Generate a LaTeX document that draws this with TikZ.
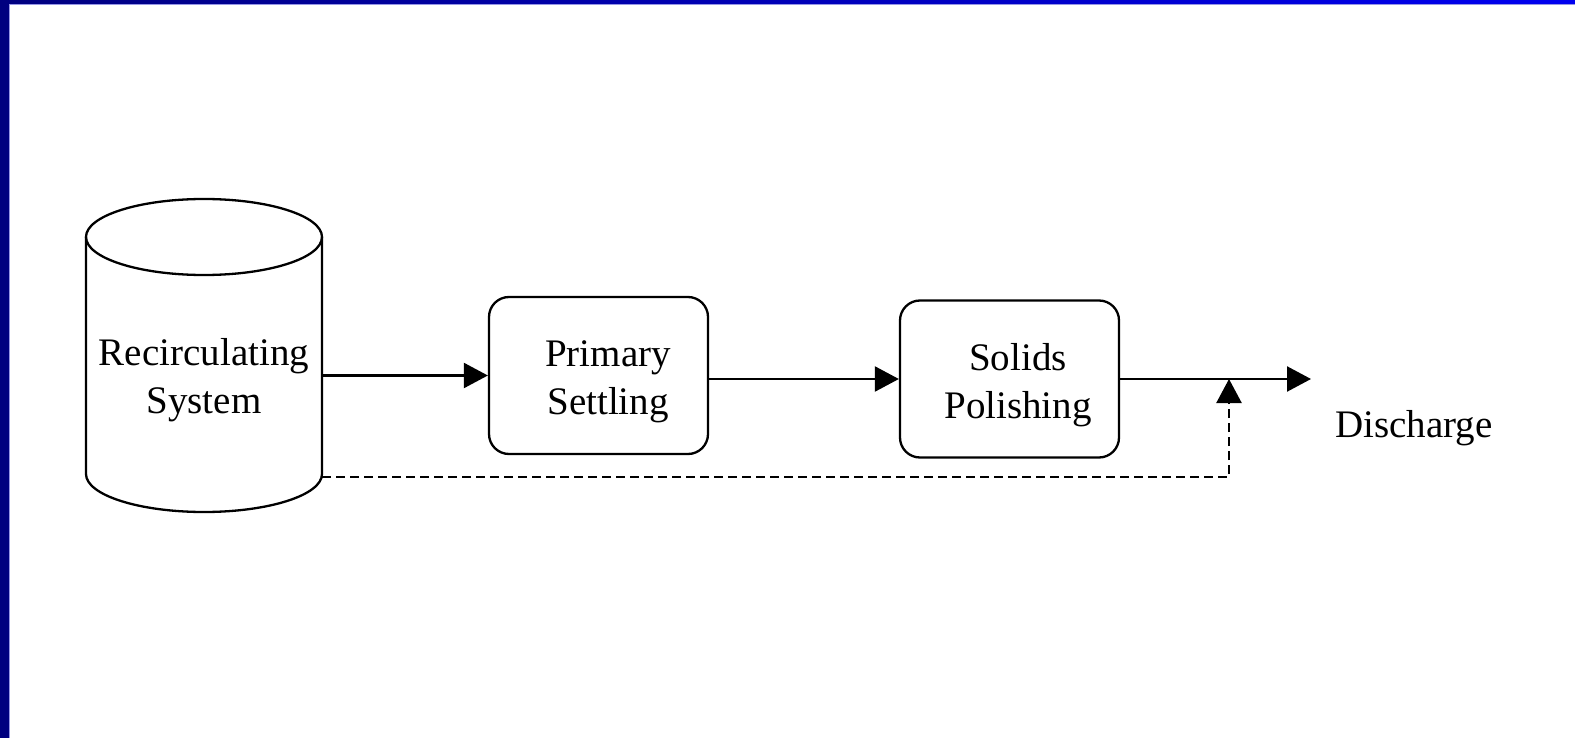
\documentclass[tikz,border=0pt]{standalone}
\usepackage{fontspec}
\setmainfont{Liberation Serif}
\usetikzlibrary{arrows.meta}
\definecolor{navy}{RGB}{0,0,128}
\definecolor{brightblue}{RGB}{0,0,240}
\definecolor{rimline}{RGB}{150,150,230}
\begin{document}
\begin{tikzpicture}[x=1pt,y=-1pt,
  lbl/.style={font=\fontsize{39pt}{48pt}\selectfont, align=center, inner sep=0pt},
  procbox/.style={draw, line width=2.3pt, rounded corners=20pt, minimum width=219pt, minimum height=157pt, inner sep=0pt},
  flow/.style={line width=2.3pt, -{Triangle[length=24pt,width=25pt]}},
  bypass/.style={flow, dash pattern=on 9pt off 5pt},
  tank/.style={line width=2.3pt}]
\useasboundingbox (0,0) rectangle (1575,738);
\fill[white] (0,0) rectangle (1575,738);
% frame
\shade[left color=navy, right color=brightblue] (0,0) rectangle (1575,4.5);
\fill[navy] (0,0) rectangle (9,738);
\draw[rimline, line width=1pt] (9.5,738) -- (9.5,5) -- (1575,5);

% cylinder
\node[minimum width=236pt, minimum height=240pt, inner sep=0pt] (cyl) at (204,357) {};
\draw[tank] (204,237) ellipse [x radius=118pt, y radius=38pt];
\draw[tank] (86,237) -- (86,474) arc[start angle=180, end angle=360, x radius=118pt, y radius=38pt] -- (322,237);
\node[lbl] (cyltext) at (204,380) {Recirculating\\System};

% boxes
\node[procbox] (ps) at (598.5,375.5) {};
\node[lbl] (pstext) at (608,382) {Primary\\Settling};
\node[procbox] (sp) at (1009.5,379) {};
\node[lbl] (sptext) at (1018,385) {Solids\\Polishing};

\coordinate (out) at (1311,379);
\coordinate (join) at (1229,379);
\node[lbl, anchor=base] (dis) at (1414,437) {Discharge};

\draw[flow] (cyl.east |- ps.west) -- (ps.west);
\draw[flow] (ps.east |- sp.west) -- (sp.west);
\draw[flow] (sp.east) -- (out);
\draw[bypass] (cyl.south east) -| (join);
\end{tikzpicture}
\end{document}
